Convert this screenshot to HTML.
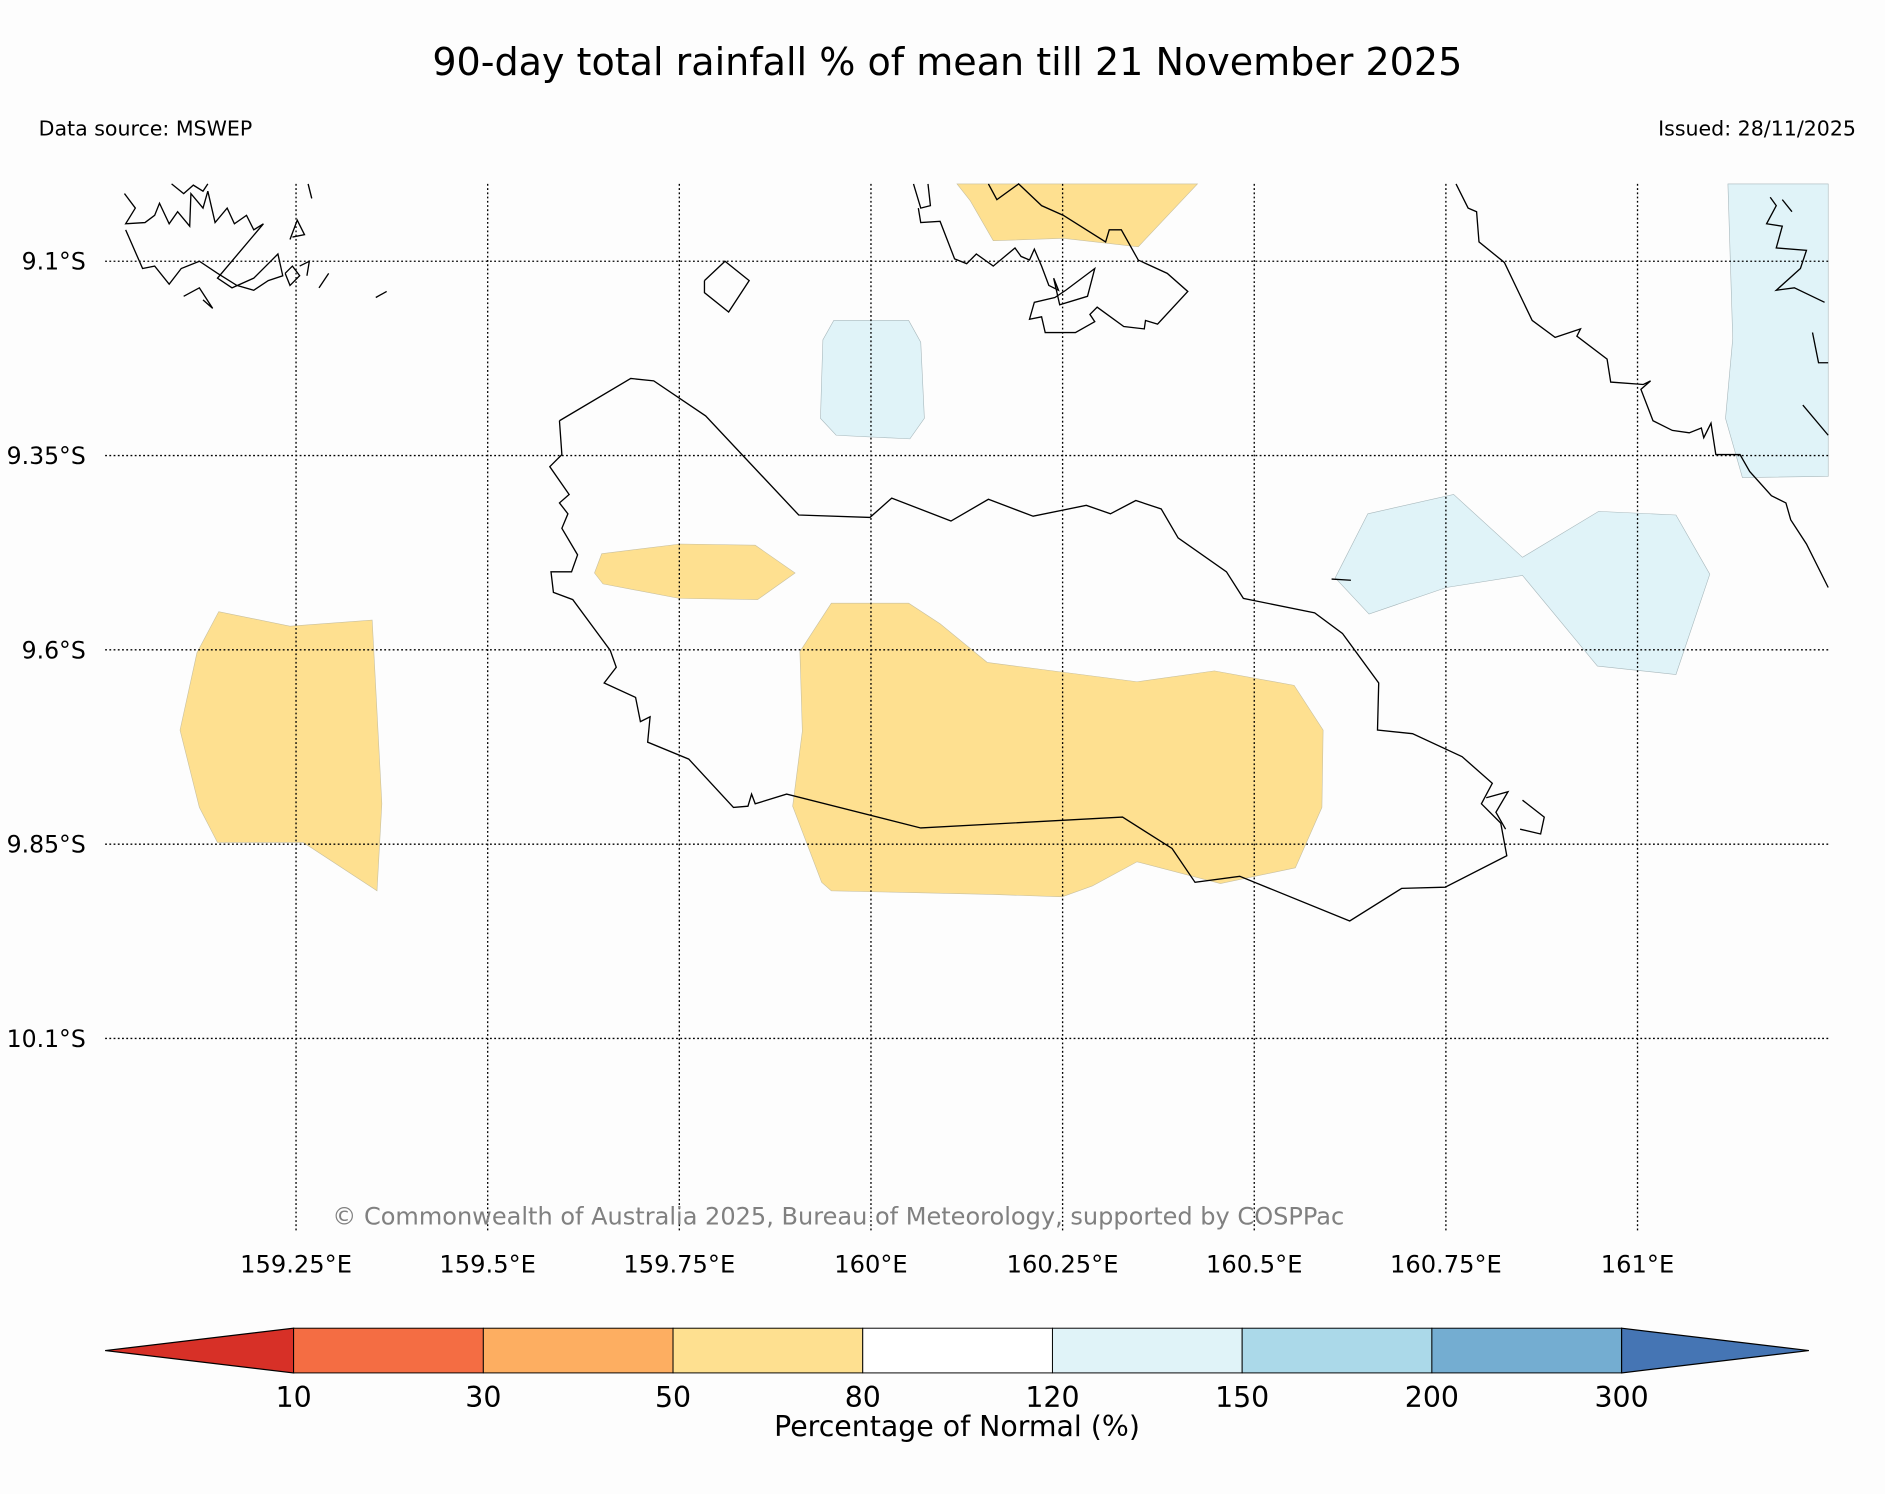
<!DOCTYPE html>
<html><head><meta charset="utf-8">
<style>html,body{margin:0;padding:0;background:#fdfdfd;}svg{display:block;font-family:"DejaVu Sans","Liberation Sans",sans-serif;}</style>
</head><body>
<svg id="c" width="1885" height="1494" viewBox="0 0 1560 1236" xmlns="http://www.w3.org/2000/svg">
<rect width="1560" height="1236" fill="#fdfdfd"/>
<text x="784" y="62" font-size="31.5" text-anchor="middle">90-day total rainfall % of mean till 21 November 2025</text>
<text x="32" y="112" font-size="17">Data source: MSWEP</text>
<text x="1536" y="112" font-size="17" text-anchor="end">Issued: 28/11/2025</text>
<g id="map"></g>
<text x="275" y="1013" font-size="19.9" fill="#808080">© Commonwealth of Australia 2025, Bureau of Meteorology, supported by COSPPac</text>
<g id="cbar"></g>
<text x="792" y="1188" font-size="23.5" text-anchor="middle">Percentage of Normal (%)</text>
</svg>
<script>
const lonTicks=[159.25,159.5,159.75,160,160.25,160.5,160.75,161];
const lonLabels=["159.25°E","159.5°E","159.75°E","160°E","160.25°E","160.5°E","160.75°E","161°E"];
const latTicks=[9.1,9.35,9.6,9.85,10.1];
const latLabels=["9.1°S","9.35°S","9.6°S","9.85°S","10.1°S"];
const cbBounds=["10","30","50","80","120","150","200","300"];
const cbColors=["#d73027","#f46d43","#fdae61","#fee090","#ffffff","#e0f3f8","#abd9e9","#74add1","#4575b4"];
const NS="http://www.w3.org/2000/svg";
const X=lon=>245+(lon-159.25)*634.4;
const Y=lat=>216+(lat-9.1)*643.2;
const map=document.getElementById('map');
function mk(tag,attrs,parent){const e=document.createElementNS(NS,tag);for(const k in attrs)e.setAttribute(k,attrs[k]);parent.appendChild(e);return e;}
const yellowShapes=[
[[181,506],[240,518],[308,513],[316,665],[312,737],[251,697],[180,697],[165,668],[149,604],[163,540]],
[[498,458],[563,450],[625,451],[658,474],[627,496],[562,495],[499,483],[492,474]],
[[688,499],[752,499],[778,516],[817,548],[941,564],[1005,555],[1071,567],[1095,604],[1094,668],[1072,718],[1010,731],[941,713],[904,733],[879,742],[821,740],[688,737],[680,730],[656,667],[664,605],[662,539]],
[[792,152],[991,152],[942,204],[880,197],[822,199],[803,166]]];
const blueShapes=[
[[690,265],[752,265],[762,283],[765,346],[753,363],[692,360],[679,346],[681,281]],
[[1132,425],[1203,409],[1260,461],[1323,423],[1387,426],[1415,475],[1387,558],[1322,551],[1260,476],[1197,486],[1133,508],[1105,478]],
[[1430,152],[1513,152],[1513,394],[1442,395],[1428,346],[1434,280]]];
const coasts=[
[[463,348],[522,313],[541,315],[584,344],[661,426],[720,428],[738,412],[787,431],[818,413],[855,427],[899,418],[919,425],[940,414],[961,421],[975,445],[1015,473],[1029,495],[1088,507],[1111,524],[1141,565],[1140,604],[1169,607],[1210,626],[1235,648],[1226,665],[1242,681],[1247,708],[1196,734],[1160,735],[1117,762],[1026,725],[989,730],[970,702],[929,676],[762,685],[651,657],[625,665],[622,657],[619,667],[607,668],[570,628],[536,614],[538,593],[530,597],[526,577],[500,565],[510,552],[505,538],[474,496],[458,490],[456,473],[473,473],[478,459],[465,437],[470,425],[463,416],[471,409],[455,386],[465,376],[463,348]],
[[1205,152],[1215,172],[1222,175],[1224,200],[1245,217],[1268,265],[1287,279],[1308,272],[1305,278],[1330,297],[1333,316],[1360,318],[1366,315],[1358,322],[1368,348],[1384,356],[1398,358],[1408,354],[1410,362],[1416,350],[1420,376],[1440,376],[1448,390],[1466,410],[1478,416],[1482,430],[1495,450],[1513,486]],
[[583,232],[600,216],[620,232],[603,258],[583,242],[583,232]],
[[756,152],[762,172],[770,170],[768,152]],
[[818,152],[825,165],[843,152],[862,170],[880,178],[915,200],[918,190],[928,190],[942,215],[966,226],[983,241],[958,268],[948,265],[947,272],[930,270],[908,254],[902,260],[906,266],[890,275],[865,275],[862,262],[852,264],[856,250],[873,246],[882,240],[906,222],[900,245],[877,252],[872,230],[876,240],[868,236],[862,220],[856,206],[852,215],[845,212],[840,205],[822,220],[808,210],[800,218],[790,214],[778,183],[762,184],[760,172]],
[[103,160],[112,172],[104,185],[120,184],[128,178],[132,168],[140,185],[147,175],[157,187],[158,160],[168,172],[172,158],[178,184],[188,172],[194,185],[204,178],[210,190],[218,185],[180,230],[192,238],[210,230],[222,218],[230,210],[234,228],[222,232],[210,240],[196,236],[180,226],[165,216],[150,222],[140,235],[128,220],[118,222],[104,190]],
[[142,152],[152,160],[160,153],[168,158],[172,152]],
[[152,245],[165,238],[176,255],[168,248]],
[[236,226],[242,220],[248,228],[240,236],[236,226]],
[[248,220],[256,216],[254,228]],[[264,238],[272,226]],[[311,246],[320,241]],[[255,152],[258,164]],
[[240,198],[246,182],[252,194],[242,196]],
[[1465,163],[1470,170],[1462,185],[1475,187],[1470,205],[1495,207],[1490,222],[1470,240],[1485,238],[1510,250]],
[[1475,165],[1483,175]],[[1500,275],[1505,300],[1513,300]],[[1492,335],[1513,360]],
[[1230,660],[1248,655],[1238,672],[1246,686]],[[1260,662],[1278,676],[1275,690],[1258,686]],
[[1102,479],[1118,480]]];
function pts(a){return a.map(p=>p.join(',')).join(' ');}
yellowShapes.forEach((s,i)=>{const p=mk('polygon',{points:pts(s),fill:'#fee090',stroke:'#c8c0a0','stroke-width':0.5},map);

});
blueShapes.forEach((s,i)=>{const p=mk('polygon',{points:pts(s),fill:'#e0f3f8',stroke:'#a8b8bc','stroke-width':0.5},map);

});
coasts.forEach((s,i)=>{const p=mk('polyline',{points:pts(s),fill:'none',stroke:'#000','stroke-width':1.1},map);

});
lonTicks.forEach((v,i)=>{const x=X(v);
const l=mk('line',{x1:x,x2:x,y1:152,y2:1020,stroke:'#000','stroke-width':1.1,'stroke-dasharray':'1.5,2'},map);


const t=mk('text',{x:x,y:1053,'font-size':20,'text-anchor':'middle'},map);t.textContent=lonLabels[i];

});
latTicks.forEach((v,i)=>{const y=Y(v);
const l=mk('line',{x1:87,x2:1513,y1:y,y2:y,stroke:'#000','stroke-width':1.1,'stroke-dasharray':'1.5,2'},map);


const t=mk('text',{x:71,y:y+7,'font-size':19.5,'text-anchor':'end'},map);t.textContent=latLabels[i];

});
const cb=document.getElementById('cbar');
const x0=243,segW=157,y0=1099,h=37,n=cbBounds.length-1;
const tl=mk('polygon',{points:`87,${y0+h/2} ${x0},${y0} ${x0},${y0+h}`,fill:cbColors[0],stroke:'#000','stroke-width':1},cb);


for(let i=0;i<n;i++){const r=mk('rect',{x:x0+i*segW,y:y0,width:segW,height:h,fill:cbColors[i+1],stroke:'#000','stroke-width':0.8},cb);

}
const xe=x0+n*segW;
const tr=mk('polygon',{points:`${xe},${y0} 1497,${y0+h/2} ${xe},${y0+h}`,fill:cbColors[cbColors.length-1],stroke:'#000','stroke-width':1},cb);


cbBounds.forEach((b,i)=>{const t=mk('text',{x:x0+i*segW,y:1164,'font-size':23.5,'text-anchor':'middle'},cb);t.textContent=b;

});
</script>
</body></html>
